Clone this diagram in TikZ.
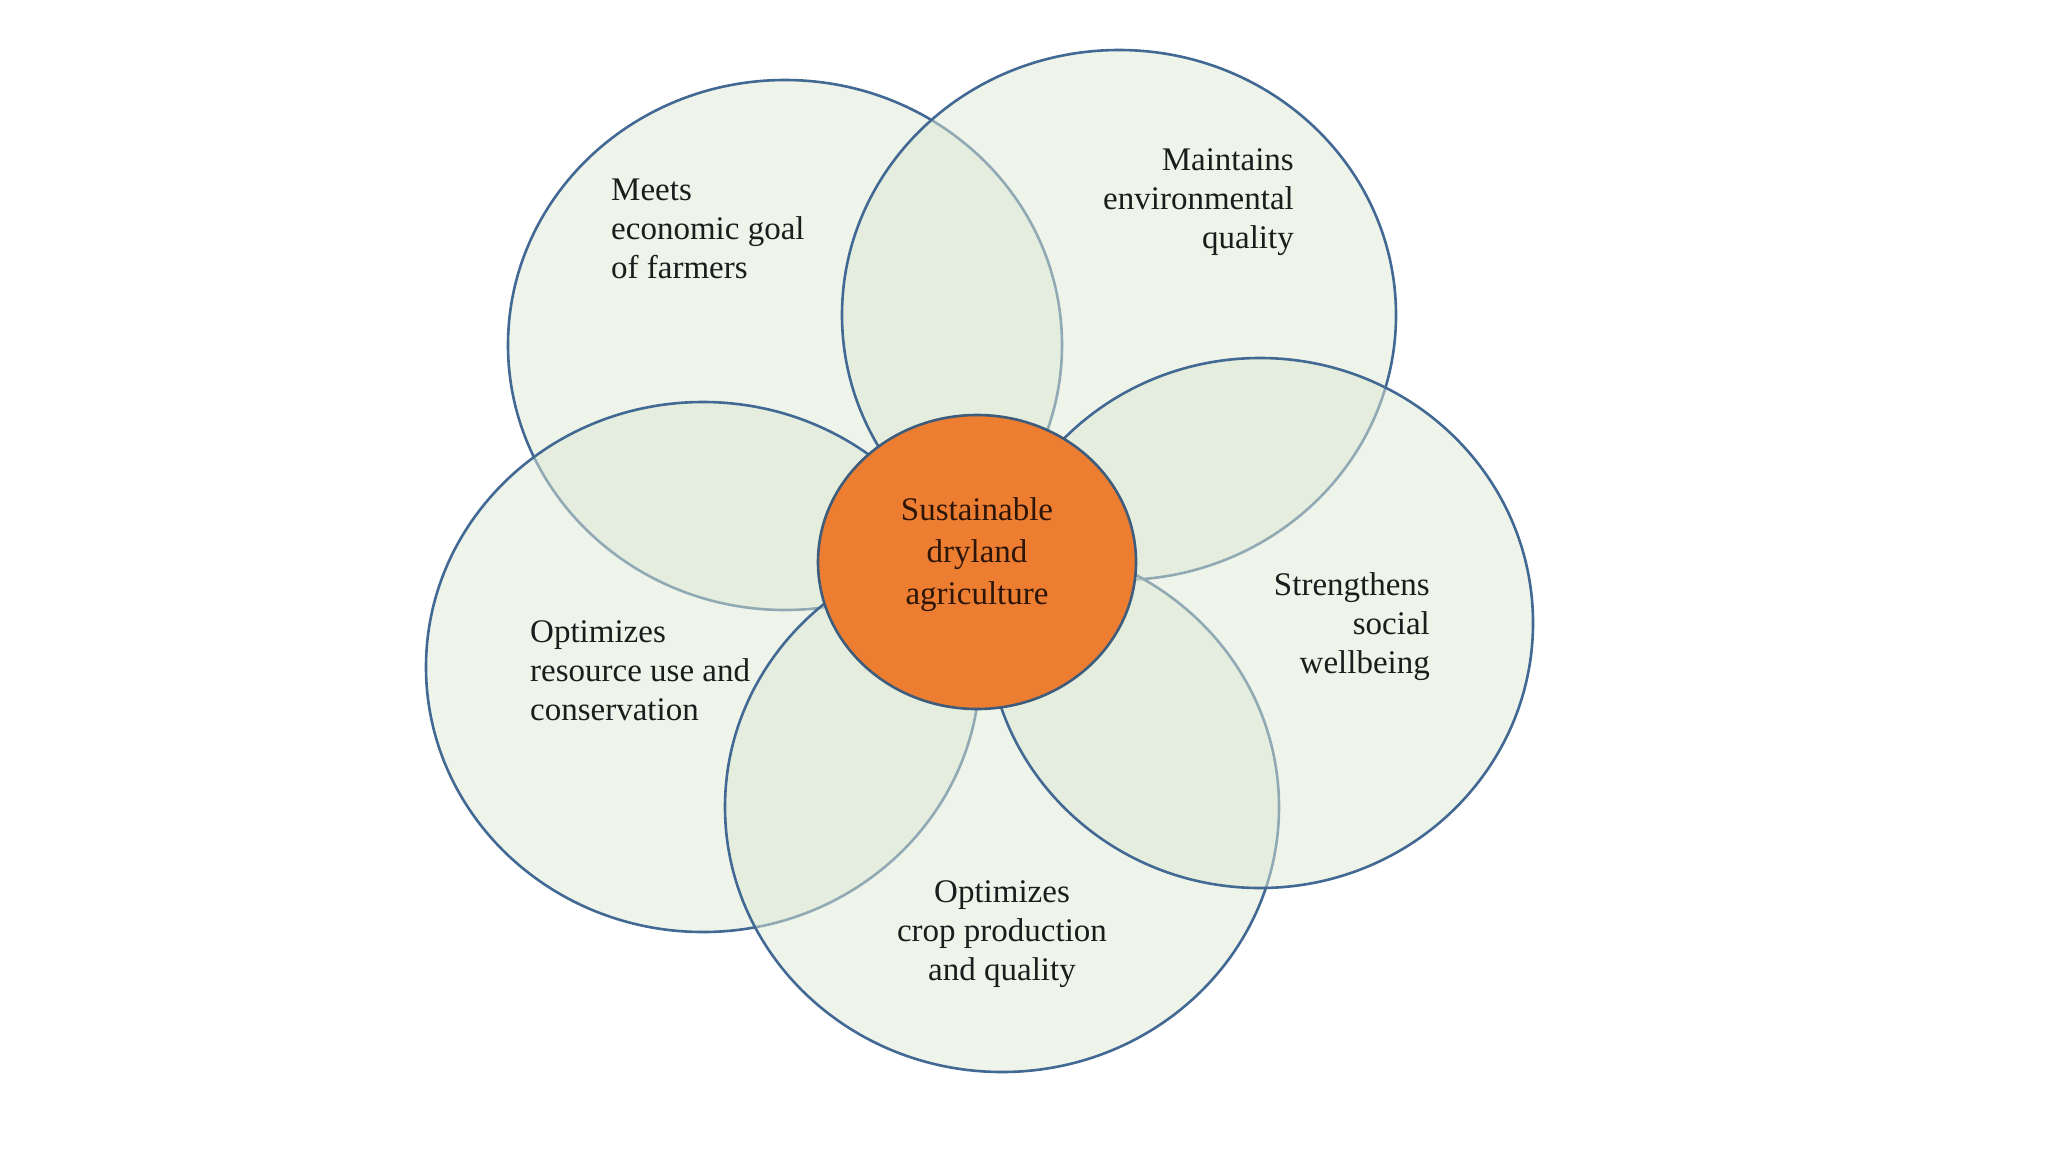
\documentclass[tikz,border=0pt]{standalone}
\usepackage{fontspec}
\setmainfont{Liberation Serif}
\usetikzlibrary{shapes.geometric}
\definecolor{edgeblue}{RGB}{66,104,148}
\definecolor{leaf}{RGB}{222,234,212}
\definecolor{hub}{RGB}{237,125,49}
\definecolor{hubedge}{RGB}{62,92,124}
\definecolor{txt}{RGB}{28,28,28}
\tikzset{
  petal/.style={ellipse, draw=edgeblue, line width=2.6pt, fill=leaf, fill opacity=0.5,
    inner sep=0pt, outer sep=0pt, minimum width=554pt, minimum height=530pt},
  hubnode/.style={ellipse, draw=hubedge, line width=2.6pt, fill=hub,
    inner sep=0pt, outer sep=0pt, minimum width=318pt, minimum height=294pt},
  label/.style={text=txt, inner sep=0pt, font=\fontsize{33}{39}\selectfont},
  hublabel/.style={text={rgb,255:red,45;green,22;blue,8}, inner sep=0pt, align=center,
    font=\fontsize{33}{42}\selectfont}
}
\begin{document}
\begin{tikzpicture}[x=1pt,y=1pt]
\useasboundingbox (0,0) rectangle (2048,-1152);
\fill[white] (0,0) rectangle (2048,-1152);
% petals (drawing order gives the overlaps)
\node[petal] (tl) at (785,-345) {};
\node[petal] (tr) at (1119,-315) {};
\node[petal] (l) at (703,-667) {};
\node[petal] (b) at (1002,-807) {};
\node[petal, minimum width=546pt] (r) at (1260,-623) {};
% centre
\node[hubnode] (hubc) at (977,-562) {};
\node[hublabel] (hubt) at (977,-555) {Sustainable\\dryland\\agriculture};
% labels
\node[label, align=left, anchor=west] (tlt) at (611,-229) {Meets\\economic goal\\of farmers};
\node[label, align=right, anchor=east] (trt) at (1294,-202) {Maintains\\environmental\\quality};
\node[label, align=right, anchor=east] (rt) at (1430,-627) {Strengthens\\social\\wellbeing};
\node[label, align=left, anchor=west] (lt) at (530,-671) {Optimizes\\resource use and\\conservation};
\node[label, align=center] (bt) at (1002,-934) {Optimizes\\crop production\\and quality};
\end{tikzpicture}
\end{document}
